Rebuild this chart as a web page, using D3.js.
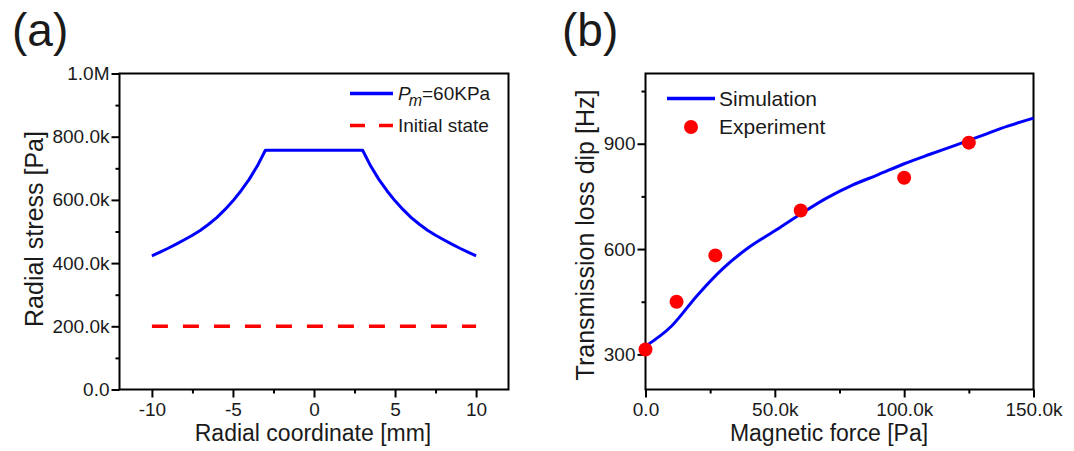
<!DOCTYPE html>
<html>
<head>
<meta charset="utf-8">
<script src="https://cdn.jsdelivr.net/npm/d3@7"></script>
<style>
  body { margin: 0; background: #fff; }
  text { font-family: "Liberation Sans", Arial, sans-serif; fill: #1a1a1a; }
</style>
</head>
<body>
<div id="chart"></div>
<script>
// panel (a): radial stress vs radial coordinate
const radialX = [-10, -9.5, -9, -8.5, -8, -7.5, -7, -6.5, -6, -5.5, -5, -4.5, -4, -3.5, -3,
                 3, 3.5, 4, 4.5, 5, 5.5, 6, 6.5, 7, 7.5, 8, 8.5, 9, 9.5, 10];
const stressPm = [423e3, 435e3, 447e3, 460e3, 474e3, 488e3, 504e3, 523e3, 544e3, 569e3, 597e3, 629e3, 665e3, 707e3, 757e3,
                  757e3, 707e3, 665e3, 629e3, 597e3, 569e3, 544e3, 523e3, 504e3, 488e3, 474e3, 460e3, 447e3, 435e3, 423e3];
const initialX = [-10, 10];
const stressInitial = [200e3, 200e3];
const stressTicks = [0, 200e3, 400e3, 600e3, 800e3, 1e6];
const stressTickLabels = ["0.0", "200.0k", "400.0k", "600.0k", "800.0k", "1.0M"];
const stressMinor = [100e3, 300e3, 500e3, 700e3, 900e3];
const radialTicks = [-10, -5, 0, 5, 10];
const radialMinor = [-7.5, -2.5, 2.5, 7.5];

// panel (b): transmission loss dip vs magnetic force
const simForce = [0, 10e3, 20e3, 30e3, 40e3, 50e3, 60e3, 70e3, 80e3, 90e3, 100e3, 110e3, 120e3, 130e3, 140e3, 150e3];
const simFreq = [323, 380, 468, 545, 605, 652, 700, 745, 782, 812, 843, 870, 896, 923, 950, 973];
const expForce = [0, 12e3, 27e3, 60e3, 100e3, 125e3];
const expFreq = [314, 450, 582, 710, 803, 903];
const forceTicks = [0, 50e3, 100e3, 150e3];
const forceTickLabels = ["0.0", "50.0k", "100.0k", "150.0k"];
const forceMinor = [25e3, 75e3, 125e3];
const freqTicks = [300, 600, 900];
const freqMinor = [450, 750, 1050];

const svg = d3.select("#chart").append("svg")
    .attr("width", 1074)
    .attr("height", 451);

function panel(x, y, o) {
    const [x0, x1] = x.range();
    const [y0, y1] = y.range();
    const g = svg.append("g");

    // minor ticks
    g.append("g").attr("transform", `translate(0,${y0})`)
        .call(d3.axisBottom(x).tickValues(o.xMinor).tickSize(4).tickSizeOuter(0).tickFormat(""))
        .call(a => a.select(".domain").remove());
    g.append("g").attr("transform", `translate(${x0},0)`)
        .call(d3.axisLeft(y).tickValues(o.yMinor).tickSize(4).tickSizeOuter(0).tickFormat(""))
        .call(a => a.select(".domain").remove());

    // major ticks
    g.append("g").attr("transform", `translate(0,${y0})`)
        .call(d3.axisBottom(x).tickValues(o.xTicks).tickSize(8).tickPadding(5).tickSizeOuter(0)
            .tickFormat((d, i) => o.xLabels[i]))
        .attr("font-size", 19)
        .call(a => a.select(".domain").remove());
    g.append("g").attr("transform", `translate(${x0},0)`)
        .call(d3.axisLeft(y).tickValues(o.yTicks).tickSize(8).tickPadding(2).tickSizeOuter(0)
            .tickFormat((d, i) => o.yLabels[i]))
        .attr("font-size", 19)
        .call(a => a.select(".domain").remove());

    g.selectAll(".tick line").attr("stroke", "#000").attr("stroke-width", 2);
    g.selectAll(".tick text").attr("font-size", 19).attr("fill", "#1a1a1a");

    g.append("rect")
        .attr("x", x0).attr("y", y1)
        .attr("width", x1 - x0).attr("height", y0 - y1)
        .attr("fill", "none").attr("stroke", "#000").attr("stroke-width", 2);

    g.append("text")
        .attr("x", o.xTitleX).attr("y", 441)
        .attr("text-anchor", "middle")
        .attr("font-size", 23)
        .text(o.xTitle);
    g.append("text")
        .attr("transform", `translate(${o.yTitleX},${o.yTitleY}) rotate(-90)`)
        .attr("text-anchor", "middle")
        .attr("font-size", 25)
        .text(o.yTitle);
    g.append("text")
        .attr("x", o.tagX).attr("y", 46)
        .attr("font-size", 46)
        .text(o.tag);
    return g;
}

// ---- (a)
const xA = d3.scaleLinear([-12, 12], [119.5, 508.5]);
const yA = d3.scaleLinear([0, 1e6], [389.5, 73.5]);
const gA = panel(xA, yA, {
    xTicks: radialTicks, xLabels: radialTicks.map(String), xMinor: radialMinor,
    yTicks: stressTicks, yLabels: stressTickLabels, yMinor: stressMinor,
    xTitle: "Radial coordinate [mm]", xTitleX: 313,
    yTitle: "Radial stress [Pa]", yTitleX: 43, yTitleY: 229,
    tag: "(a)", tagX: 12
});

const lineA = d3.line().x(d => xA(d[0])).y(d => yA(d[1]));
gA.append("path")
    .datum(d3.zip(initialX, stressInitial))
    .attr("d", lineA)
    .attr("fill", "none").attr("stroke", "#ff0000").attr("stroke-width", 3.5)
    .attr("stroke-dasharray", "16,15");
gA.append("path")
    .datum(d3.zip(radialX, stressPm))
    .attr("d", lineA)
    .attr("fill", "none").attr("stroke", "#0000ff").attr("stroke-width", 3)
    .attr("stroke-linejoin", "round");

// legend (a)
gA.append("line").attr("x1", 350).attr("x2", 393).attr("y1", 93.5).attr("y2", 93.5)
    .attr("stroke", "#0000ff").attr("stroke-width", 3.5);
gA.append("line").attr("x1", 350).attr("x2", 393).attr("y1", 125.5).attr("y2", 125.5)
    .attr("stroke", "#ff0000").attr("stroke-width", 3.5).attr("stroke-dasharray", "15,14");
const lt = gA.append("text").attr("x", 398).attr("y", 100).attr("font-size", 19);
lt.append("tspan").style("font-style", "italic").text("P");
lt.append("tspan").style("font-style", "italic").attr("font-size", 16)
    .attr("dx", -2).attr("dy", 6).text("m");
lt.append("tspan").attr("dy", -6).text("=60KPa");
gA.append("text").attr("x", 398).attr("y", 132).attr("font-size", 19).text("Initial state");

// ---- (b)
const xB = d3.scaleLinear([0, 150e3], [645.5, 1033.5]);
const yB = d3.scaleLinear([200, 1100], [389.5, 73.5]);
const gB = panel(xB, yB, {
    xTicks: forceTicks, xLabels: forceTickLabels, xMinor: forceMinor,
    yTicks: freqTicks, yLabels: freqTicks.map(String), yMinor: freqMinor,
    xTitle: "Magnetic force [Pa]", xTitleX: 829,
    yTitle: "Transmission loss dip [Hz]", yTitleX: 594, yTitleY: 235,
    tag: "(b)", tagX: 562
});

const lineB = d3.line().x(d => xB(d[0])).y(d => yB(d[1])).curve(d3.curveMonotoneX);
gB.append("path")
    .datum(d3.zip(simForce, simFreq))
    .attr("d", lineB)
    .attr("fill", "none").attr("stroke", "#0000ff").attr("stroke-width", 3)
    .attr("stroke-linejoin", "round");
gB.selectAll("circle.exp")
    .data(d3.zip(expForce, expFreq))
    .join("circle")
    .classed("exp", true)
    .attr("cx", d => xB(d[0]))
    .attr("cy", d => yB(d[1]))
    .attr("r", 7)
    .attr("fill", "#ff0000");

// legend (b)
gB.append("line").attr("x1", 667).attr("x2", 715).attr("y1", 98.5).attr("y2", 98.5)
    .attr("stroke", "#0000ff").attr("stroke-width", 3.5);
gB.append("circle").attr("cx", 691).attr("cy", 127).attr("r", 7).attr("fill", "#ff0000");
gB.append("text").attr("x", 719).attr("y", 106).attr("font-size", 21).text("Simulation");
gB.append("text").attr("x", 719).attr("y", 134).attr("font-size", 21).text("Experiment");
</script>
</body>
</html>
